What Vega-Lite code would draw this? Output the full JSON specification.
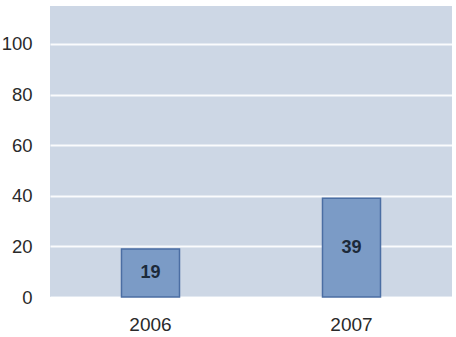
{
  "$schema": "https://vega.github.io/schema/vega-lite/v6.json",
  "autosize": "none",
  "width": 402,
  "height": 291,
  "padding": {"left": 50, "top": 6, "right": 4, "bottom": 40},
  "background": "#ffffff",
  "config": {
    "view": {"fill": "#cdd7e5", "stroke": null},
    "font": "Liberation Sans"
  },
  "data": {
    "values": [
      {"year": "2006", "value": 19},
      {"year": "2007", "value": 39}
    ]
  },
  "encoding": {
    "x": {
      "field": "year",
      "type": "nominal",
      "axis": {
        "title": null,
        "labelAngle": 0,
        "domain": false,
        "ticks": false,
        "labelPadding": 18,
        "labelFontSize": 19,
        "labelColor": "#2a2a2a"
      }
    }
  },
  "layer": [
    {
      "mark": {"type": "bar", "size": 58, "fill": "#7b9bc6", "stroke": "#4b6ea3", "strokeWidth": 1.5},
      "encoding": {
        "y": {
          "field": "value",
          "type": "quantitative",
          "scale": {"domain": [0, 115], "nice": false},
          "axis": {
            "title": null,
            "values": [0, 20, 40, 60, 80, 100],
            "domain": false,
            "ticks": false,
            "labelPadding": 18,
            "labelFontSize": 18.5,
            "labelColor": "#2a2a2a",
            "gridColor": "#ffffff",
            "gridWidth": 2,
            "gridOpacity": 0.9
          }
        }
      }
    },
    {
      "transform": [{"calculate": "datum.value / 2", "as": "mid"}],
      "mark": {"type": "text", "fontWeight": "bold", "fontSize": 18, "color": "#1c2a3a", "baseline": "middle"},
      "encoding": {
        "y": {"field": "mid", "type": "quantitative", "scale": {"domain": [0, 115], "nice": false}},
        "text": {"field": "value", "type": "quantitative"}
      }
    }
  ]
}
